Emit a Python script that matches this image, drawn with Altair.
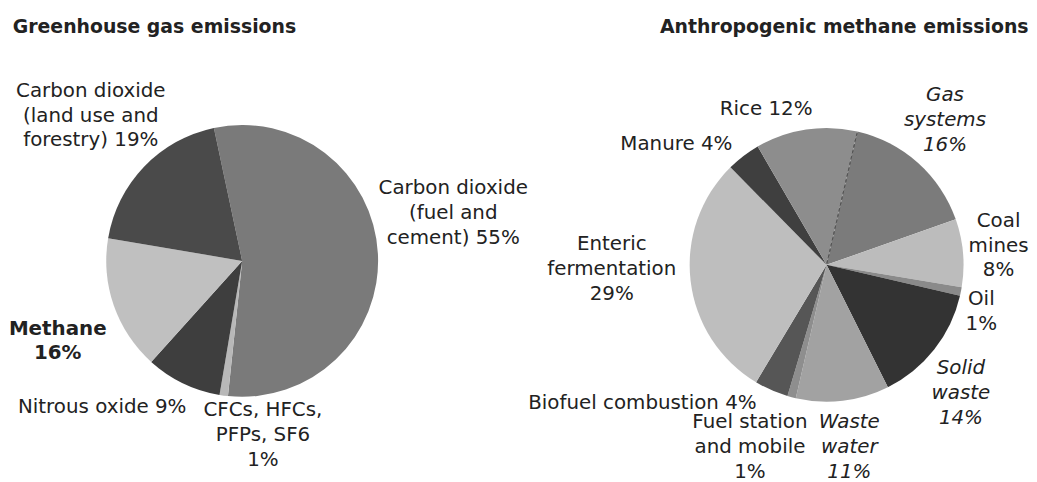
import math
import altair as alt
import pandas as pd

# ---- data ----
ghg_names = [
    "Carbon dioxide (fuel and cement)",
    "CFCs, HFCs, PFPs, SF6",
    "Nitrous oxide",
    "Methane",
    "Carbon dioxide (land use and forestry)",
]
ghg_values = [55, 1, 9, 16, 19]
ghg_labels = [
    "Carbon dioxide\n(fuel and\ncement) 55%",
    "CFCs, HFCs,\nPFPs, SF6\n1%",
    "Nitrous oxide 9%",
    "Methane\n16%",
    "Carbon dioxide\n(land use and\nforestry) 19%",
]

methane_names = [
    "Gas systems", "Coal mines", "Oil", "Solid waste", "Waste water",
    "Fuel station and mobile", "Biofuel combustion", "Enteric fermentation",
    "Manure", "Rice",
]
methane_values = [16, 8, 1, 14, 11, 1, 4, 29, 4, 12]
methane_labels = [
    "Gas\nsystems\n16%", "Coal\nmines\n8%", "Oil\n1%", "Solid\nwaste\n14%",
    "Waste\nwater\n11%", "Fuel station\nand mobile\n1%", "Biofuel combustion 4%",
    "Enteric\nfermentation\n29%", "Manure 4%", "Rice 12%",
]

# ---- styles ----
ghg_colors = ["#7a7a7a", "#b8b8b8", "#3e3e3e", "#c0c0c0", "#4a4a4a"]
methane_colors = ["#7b7b7b", "#bcbcbc", "#8a8a8a", "#333333", "#a2a2a2",
                  "#8e8e8e", "#565656", "#bebebe", "#3f3f3f", "#8d8d8d"]

FONT = "DejaVu Sans"
TEXT_COLOR = "#222222"
LINE_H = 25

# label layout: radius, dx, dy (offset of the block centre), weight, style
ghg_layout = {
    "Carbon dioxide (fuel and cement)": (210, 3, -37, "normal", "normal"),
    "CFCs, HFCs, PFPs, SF6": (170, 44, 7, "normal", "normal"),
    "Nitrous oxide": (200, -54, -33, "normal", "normal"),
    "Methane": (200, 3, 15, "bold", "normal"),
    "Carbon dioxide (land use and forestry)": (210, -1, -1, "normal", "normal"),
}
methane_layout = {
    "Gas systems": (185, -4, -8, "normal", "italic"),
    "Coal mines": (177, -3, -4, "normal", "normal"),
    "Oil": (160, -1, 16, "normal", "normal"),
    "Solid waste": (185, -10, 15, "normal", "italic"),
    "Waste water": (185, 1, 0, "normal", "italic"),
    "Fuel station and mobile": (185, -30, 5, "normal", "normal"),
    "Biofuel combustion": (170, -117, -16, "normal", "normal"),
    "Enteric fermentation": (215, -3, -21, "normal", "normal"),
    "Manure": (190, -36, 29, "normal", "normal"),
    "Rice": (160, -37, 1, "normal", "normal"),
}


def pie(names, values, labels, colors, start_deg, layout, title, anchor,
        title_dx, width, height, radius, dashed_after=None):
    df = pd.DataFrame({"name": names, "value": values, "label": labels,
                       "order": list(range(len(names)))})
    start = math.radians(start_deg)
    theta_scale = alt.Scale(domain=[0, 100], range=[start, start + 2 * math.pi])
    base = alt.Chart(df)
    cum = base.transform_window(
        cum="sum(value)", sort=[alt.SortField("order")], frame=[None, 0]
    ).transform_calculate(mid="datum.cum - datum.value / 2",
                          begin="datum.cum - datum.value")
    arcs = base.mark_arc(outerRadius=radius).encode(
        theta=alt.Theta("value:Q", stack=True, scale=theta_scale),
        color=alt.Color("name:N", scale=alt.Scale(domain=names, range=colors),
                        legend=None),
        order=alt.Order("order:Q"),
    )
    layers = [arcs]
    if dashed_after is not None:
        # dashed boundary at the start of the given slice
        layers.append(
            cum.transform_filter(alt.datum.name == dashed_after)
            .mark_arc(outerRadius=radius - 2, fillOpacity=0, stroke="#555555",
                      strokeWidth=1, strokeDash=[3, 3])
            .encode(theta=alt.Theta("begin:Q", scale=theta_scale),
                    theta2=alt.Theta2("begin:Q"))
        )
    for name, label in zip(names, labels):
        r, dx, dy, weight, style = layout[name]
        n_lines = label.count("\n") + 1
        dy_first = dy - (n_lines - 1) * LINE_H / 2
        txt = (
            cum.transform_filter(alt.datum.name == name)
            .mark_text(radius=r, dx=dx, dy=dy_first, font=FONT, fontSize=20,
                       fontWeight=weight, fontStyle=style, lineBreak="\n",
                       lineHeight=LINE_H, align="center", baseline="middle",
                       color=TEXT_COLOR)
            .encode(theta=alt.Theta("mid:Q", scale=theta_scale),
                    text=alt.Text("label:N"))
        )
        layers.append(txt)
    return alt.layer(*layers).properties(
        width=width, height=height,
        title=alt.TitleParams(title, anchor=anchor, dx=title_dx, font=FONT,
                              fontSize=19, fontWeight="bold", offset=16,
                              color=TEXT_COLOR),
    )


left = pie(ghg_names, ghg_values, ghg_labels, ghg_colors, -12, ghg_layout,
           "Greenhouse gas emissions", "start", 4, 466, 420, 137)
right = pie(methane_names, methane_values, methane_labels, methane_colors, 13,
            methane_layout, "Anthropogenic methane emissions", "end", 0, 398, 428,
            138, dashed_after="Gas systems")

chart = (
    alt.hconcat(left, right, spacing=157, bounds="flush")
    .resolve_scale(color="independent", theta="independent")
    .properties(padding={"top": 8, "left": 0, "right": 0, "bottom": 0})
    .configure_view(stroke=None)
)

chart.save("out.html", embed_options={"renderer": "svg", "actions": False})
